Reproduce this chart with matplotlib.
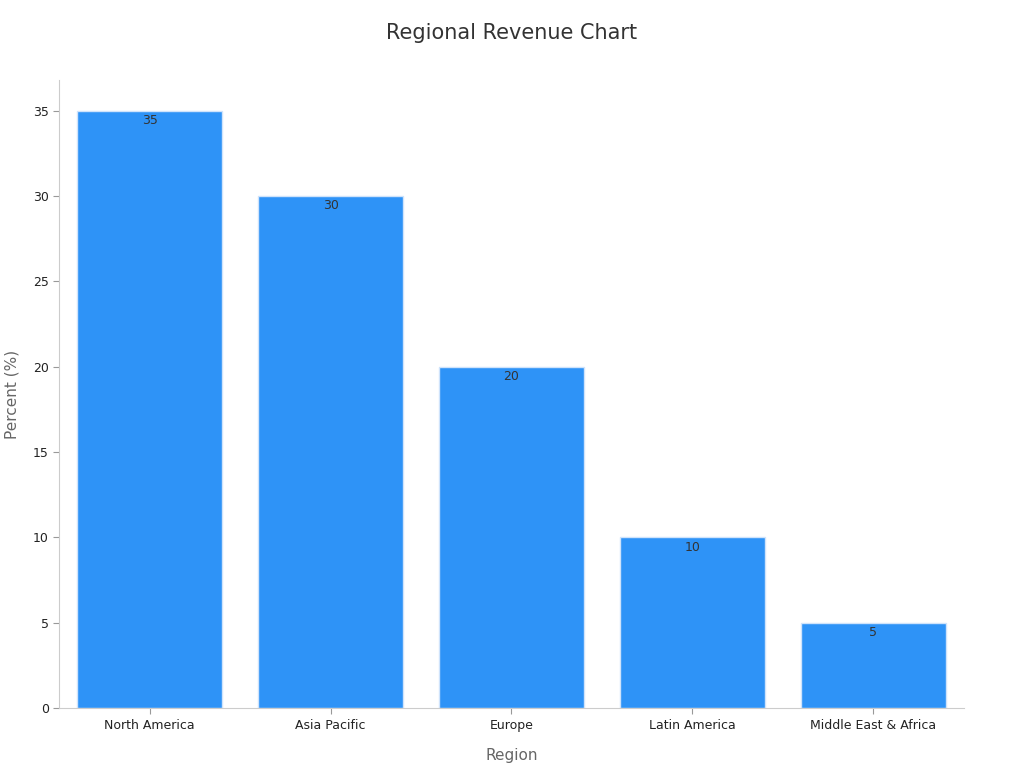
import matplotlib
matplotlib.use("Agg")
import matplotlib.pyplot as plt

regions = ["North America", "Asia Pacific", "Europe", "Latin America", "Middle East & Africa"]
percent = [35, 30, 20, 10, 5]

plt.rcParams['font.family'] = ['DejaVu Sans']
fig = plt.figure(figsize=(10.24, 7.68), dpi=100)
ax = fig.add_axes([0.058, 0.078, 0.883, 0.818])

bars = ax.bar(regions, percent, width=0.8, color='#2E93F7', edgecolor='#cfe3fb', linewidth=1)
for b, v in zip(bars, percent):
    ax.text(b.get_x() + b.get_width() / 2, v - 0.2, str(v), ha='center', va='top',
            fontsize=9, color='#333333')

ax.set_xlim(-0.5, 4.5)
ax.set_ylim(0, 36.8)
ax.set_yticks([0, 5, 10, 15, 20, 25, 30, 35])
ax.spines['top'].set_visible(False)
ax.spines['right'].set_visible(False)
for s in ('left', 'bottom'):
    ax.spines[s].set_color('#cccccc')
ax.tick_params(colors='#222222', labelsize=9, length=4)
ax.tick_params(axis='both', color='#999999')
ax.set_xlabel('Region', fontsize=11, color='#666666', labelpad=12)
ax.set_ylabel('Percent (%)', fontsize=11, color='#666666', labelpad=10)
fig.suptitle('Regional Revenue Chart', fontsize=15, color='#333333', y=0.97)

fig.savefig('out.png', dpi=100)
